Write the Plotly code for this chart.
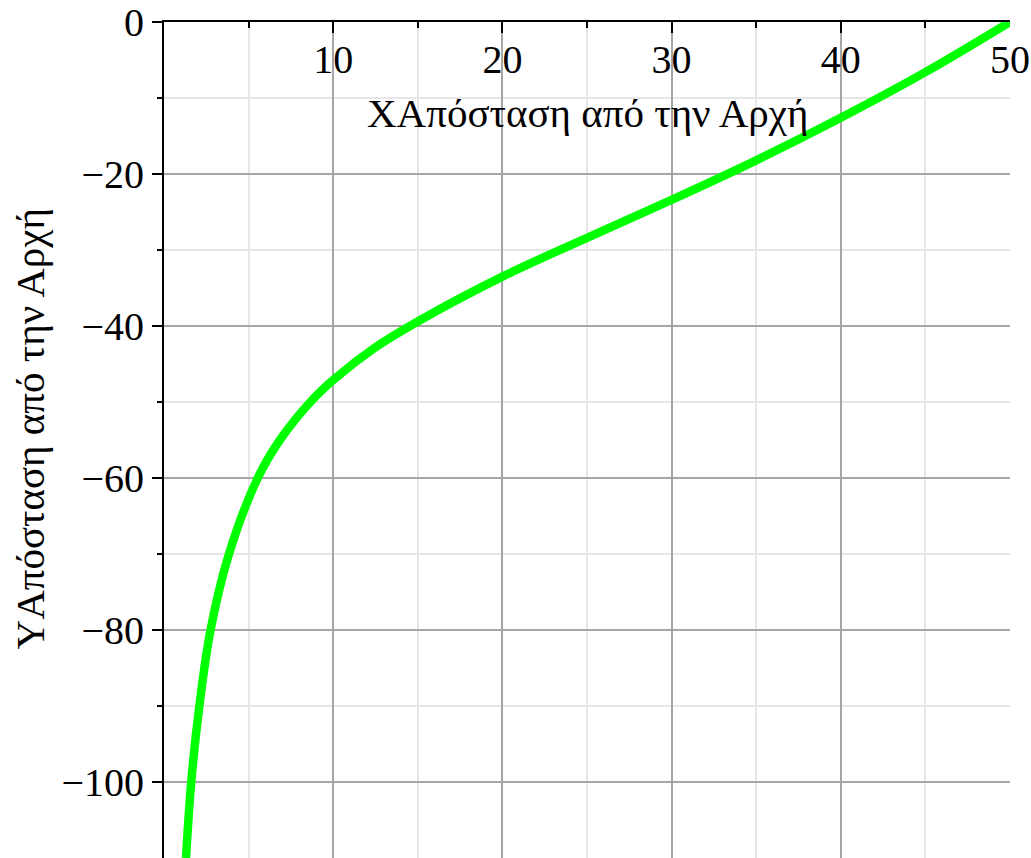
import plotly.graph_objects as go

# Curve values
x_vals = [1.30, 1.61, 2.09, 2.75, 3.84, 5.54, 6.85, 8.82, 10.0, 12.5, 15.0, 20.0, 25.0, 30.0, 35.0, 40.0, 45.0, 50.0]
y_vals = [-110.0, -100.0, -90.0, -80.0, -70.0, -60.0, -55.0, -49.6, -47.1, -42.8, -39.4, -33.5, -28.4, -23.4, -18.2, -12.6, -6.6, 0.0]

x_major = [10, 20, 30, 40, 50]
x_minor = [5, 15, 25, 35, 45]
y_major = [0, -20, -40, -60, -80, -100]
y_minor = [-10, -30, -50, -70, -90]
x_title = "XΑπόσταση από την Αρχή"
y_title = "YΑπόσταση από την Αρχή"

FONT = "Liberation Serif"
MAJOR_GRID = "#a6a6a6"
MINOR_GRID = "#e6e6e6"
TICK_FONT = dict(family=FONT, size=40, color="black")
TITLE_FONT = dict(family=FONT, size=41, color="black")

fig = go.Figure()
fig.add_trace(go.Scatter(x=x_vals, y=y_vals, mode="lines",
                         line=dict(color="#00ff00", width=8.5, shape="spline", smoothing=1.0),
                         showlegend=False, hoverinfo="skip"))

fig.update_layout(
    width=1031, height=858,
    margin=dict(l=164, r=21, t=22, b=0),
    paper_bgcolor="white", plot_bgcolor="white",
    font=dict(family=FONT, size=40, color="black"),
    xaxis=dict(
        range=[0, 50], side="top", tickmode="array", tickvals=x_major,
        ticks="inside", ticklen=11, tickwidth=2, tickcolor="black",
        ticklabelstandoff=-69,
        showline=True, linecolor="black", linewidth=2,
        showgrid=True, gridcolor=MAJOR_GRID, gridwidth=2,
        zeroline=False,
        tickfont=TICK_FONT,
        minor=dict(tickmode="array", tickvals=x_minor, ticks="inside", ticklen=6,
                   tickwidth=2, tickcolor="black", showgrid=True,
                   gridcolor=MINOR_GRID, gridwidth=2),
    ),
    yaxis=dict(
        range=[-110, 0], tickmode="array", tickvals=y_major,
        ticks="outside", ticklen=10, tickwidth=2, tickcolor="black",
        showline=True, linecolor="black", linewidth=2,
        showgrid=True, gridcolor=MAJOR_GRID, gridwidth=2,
        zeroline=False,
        tickfont=TICK_FONT,
        minor=dict(tickmode="array", tickvals=y_minor, ticks="outside", ticklen=5,
                   tickwidth=2, tickcolor="black", showgrid=True,
                   gridcolor=MINOR_GRID, gridwidth=2),
    ),
    annotations=[
        dict(text=x_title, xref="paper", yref="paper", x=0.5, y=0.891,
             xanchor="center", yanchor="middle", showarrow=False,
             font=TITLE_FONT),
        dict(text=y_title, xref="paper", yref="paper", x=-0.158, y=0.513,
             xanchor="center", yanchor="middle", showarrow=False, textangle=-90,
             font=TITLE_FONT),
    ],
)

fig.write_html("out.html")
